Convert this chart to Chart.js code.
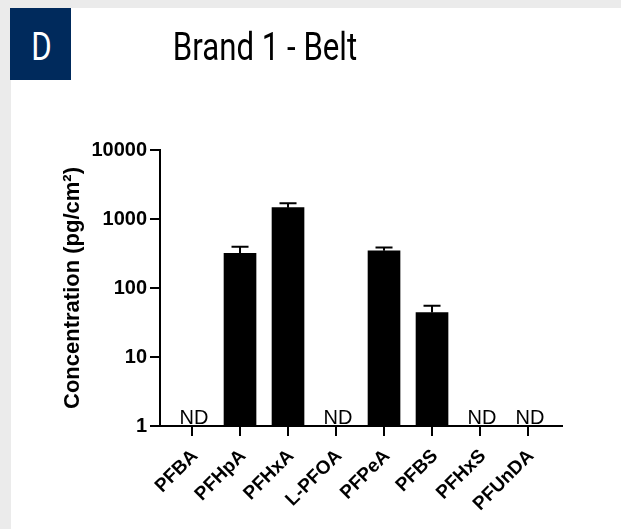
<!DOCTYPE html>
<html>
<head>
<meta charset="utf-8">
<title>Brand 1 - Belt</title>
<script src="https://cdn.jsdelivr.net/npm/chart.js@4/dist/chart.umd.min.js"></script>
<style>
  html, body { margin: 0; padding: 0; overflow: hidden; background: #ffffff; scrollbar-width: none; }
  html::-webkit-scrollbar, body::-webkit-scrollbar { display: none; width: 0; height: 0; }
  body { width: 621px; height: 529px; position: relative; }
  .sheet { position: fixed; left: 0; top: 0; width: 100vw; height: 100vh; background: #ffffff; }
  .band-top { position: fixed; left: 0; top: 0; width: 100vw; height: 8px; background: #ebebeb; }
  .band-left { position: fixed; left: 0; top: 0; width: 11px; height: 100vh; background: #ebebeb; }
  .badge {
    position: absolute; left: 10px; top: 8px; width: 61px; height: 72px;
    background: #002a5c;
  }
  .badge span, .heading {
    position: absolute; font-family: Roboto, "Noto Sans", sans-serif;
    font-size: 39px; line-height: 39px; white-space: nowrap;
    transform: scaleX(0.8); transform-origin: center;
  }
  .badge span { left: 0; width: 63px; top: 20px; text-align: center; color: #ffffff; }
  .heading { left: 0; width: 530px; top: 28px; text-align: center; color: #000000; }
  canvas { position: absolute; left: 0; top: 0; display: block; }
</style>
</head>
<body>
<div class="sheet"></div>
<div class="band-top"></div>
<div class="band-left"></div>
<div class="badge"><span>D</span></div>
<div class="heading">Brand 1 - Belt</div>
<canvas id="chart" width="621" height="529"></canvas>
<script>
// Compounds along the x axis
const categories = ['PFBA', 'PFHpA', 'PFHxA', 'L-PFOA', 'PFPeA', 'PFBS', 'PFHxS', 'PFUnDA'];
// Mean concentration (pg/cm²); null = not detected (ND)
const meanConc = [null, 318, 1458, null, 347, 44, null, null];
// Upper error (SD) for each compound
const sdConc = [null, 79, 231, null, 38, 11.5, null, null];
// Log-axis tick values
const yTicks = [1, 10, 100, 1000, 10000];
const ndLabel = 'ND';

const AXIS_FONT = '"Liberation Sans", Arial, sans-serif';

// Upper error bars drawn from the value scale
const errorBars = {
  id: 'errorBars',
  afterDatasetsDraw(chart) {
    const { ctx } = chart;
    const y = chart.scales.y;
    const meta = chart.getDatasetMeta(0);
    ctx.save();
    ctx.strokeStyle = '#000000';
    ctx.lineWidth = 2;
    meta.data.forEach((bar, i) => {
      if (meanConc[i] == null || sdConc[i] == null) return;
      const top = y.getPixelForValue(meanConc[i] + sdConc[i]);
      ctx.beginPath();
      ctx.moveTo(bar.x, bar.y);
      ctx.lineTo(bar.x, top);
      ctx.moveTo(bar.x - 8.5, top);
      ctx.lineTo(bar.x + 8.5, top);
      ctx.stroke();
    });
    ctx.restore();
  }
};

// "ND" markers for compounds that were not detected
const ndMarkers = {
  id: 'ndMarkers',
  afterDatasetsDraw(chart) {
    const { ctx, chartArea } = chart;
    const x = chart.scales.x;
    ctx.save();
    ctx.fillStyle = '#000000';
    ctx.font = '20px ' + AXIS_FONT;
    ctx.textAlign = 'center';
    ctx.textBaseline = 'alphabetic';
    categories.forEach((c, i) => {
      if (meanConc[i] != null) return;
      ctx.fillText(ndLabel, x.getPixelForValue(i) + 2, chartArea.bottom - 2);
    });
    ctx.restore();
  }
};

new Chart(document.getElementById('chart'), {
  type: 'bar',
  data: {
    datasets: [{
      data: meanConc.map((v, i) => ({ x: i, y: v })),
      backgroundColor: '#000000',
      borderWidth: 0,
      barThickness: 32
    }]
  },
  options: {
    responsive: false,
    animation: false,
    layout: { padding: { left: 0, top: 150, right: 59, bottom: 0 } },
    plugins: {
      legend: { display: false },
      tooltip: { enabled: false },
      title: { display: false }
    },
    scales: {
      x: {
        type: 'linear',
        offset: false,
        min: -0.667,
        max: 7.708,
        afterBuildTicks(scale) {
          scale.ticks = categories.map((c, i) => ({ value: i }));
        },
        afterFit(scale) { scale.height = 103; },
        ticks: {
          autoSkip: false,
          minRotation: 45,
          maxRotation: 45,
          padding: 9,
          labelOffset: 3,
          color: '#000000',
          font: { family: AXIS_FONT, size: 19, weight: 'bold' },
          callback: (v) => categories[v]
        },
        grid: {
          offset: false,
          drawOnChartArea: false,
          drawTicks: true,
          tickLength: 10,
          color: '#000000',
          lineWidth: 2
        },
        border: { display: true, color: '#000000', width: 2 }
      },
      y: {
        type: 'logarithmic',
        min: 1,
        max: 10000,
        afterBuildTicks(scale) {
          scale.ticks = yTicks.map(v => ({ value: v }));
        },
        afterFit(scale) { scale.width = 160; },
        ticks: {
          color: '#000000',
          padding: 3,
          font: { family: AXIS_FONT, size: 20, weight: 'bold' },
          callback: (v) => String(v)
        },
        grid: {
          drawOnChartArea: false,
          drawTicks: true,
          tickLength: 10,
          color: '#000000',
          lineWidth: 2
        },
        border: { display: true, color: '#000000', width: 2 },
        title: {
          display: true,
          text: 'Concentration (pg/cm²)',
          color: '#000000',
          font: { family: AXIS_FONT, size: 22, weight: 'bold' },
          padding: { top: 60, bottom: 0 }
        }
      }
    }
  },
  plugins: [errorBars, ndMarkers]
});
</script>
</body>
</html>
